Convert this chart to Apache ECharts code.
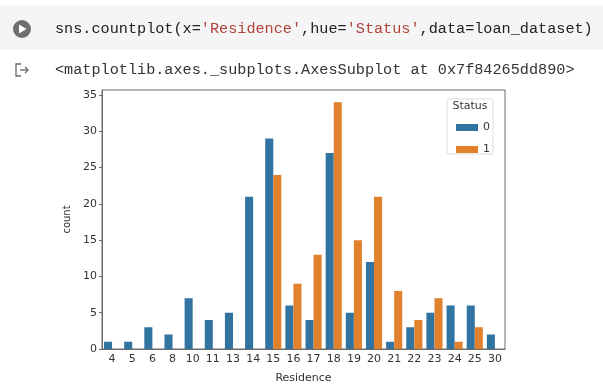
<!DOCTYPE html>
<html>
<head>
<meta charset="utf-8">
<script src="https://cdn.jsdelivr.net/npm/echarts@6/dist/echarts.min.js"></script>
<style>
  html, body { margin: 0; padding: 0; background: #fff; }
  #chart { width: 603px; height: 389px; }
</style>
</head>
<body>
<div id="chart"></div>
<script>
// countplot: Residence vs Status
const residence = ['4', '5', '6', '8', '10', '11', '13', '14', '15', '16', '17', '18', '19', '20', '21', '22', '23', '24', '25', '30']
const status0 = [1, 1, 3, 2, 7, 4, 5, 21, 29, 6, 4, 27, 5, 12, 1, 3, 5, 6, 6, 2]
const status1 = ['-', '-', '-', '-', '-', '-', '-', '-', 24, 9, 13, 34, 15, 21, 8, 4, 7, 1, 3, '-']
const yTicks = [0, 5, 10, 15, 20, 25, 30, 35]

const blue = '#3274a1'
const orange = '#e1812c'
const mono = '"Liberation Mono", "DejaVu Sans Mono", monospace'

const chart = echarts.init(document.getElementById('chart'))

chart.setOption({
  animation: false,
  backgroundColor: '#fff',
  color: [blue, orange],
  grid: {
    left: 102, right: 98, top: 90, bottom: 37,
    show: true, borderColor: '#6b6b6b', borderWidth: 1
  },
  legend: {
    orient: 'vertical',
    left: 451, top: 117,
    z: 10,
    itemWidth: 22, itemHeight: 7, itemGap: 11,
    icon: 'rect',
    textStyle: { color: '#333', fontSize: 11, fontFamily: 'DejaVu Sans' },
    data: ['0', '1']
  },
  xAxis: {
    type: 'category',
    data: residence,
    name: 'Residence',
    nameLocation: 'middle',
    nameGap: 24,
    nameTextStyle: { color: '#333', fontSize: 11, fontFamily: 'DejaVu Sans' },
    axisLine: { lineStyle: { color: '#6b6b6b' } },
    axisTick: { alignWithLabel: true, length: 3, lineStyle: { color: '#6b6b6b' } },
    axisLabel: { color: '#333', fontSize: 11, margin: 5, fontFamily: 'DejaVu Sans', interval: 0 }
  },
  yAxis: {
    type: 'value',
    min: 0, max: 35.7,
    name: 'count',
    nameLocation: 'middle',
    nameGap: 30,
    nameTextStyle: { color: '#333', fontSize: 10, fontFamily: 'DejaVu Sans' },
    axisLine: { show: true, lineStyle: { color: '#6b6b6b' } },
    axisTick: { show: true, length: 3, customValues: yTicks, lineStyle: { color: '#6b6b6b' } },
    axisLabel: { color: '#333', fontSize: 11, margin: 5, customValues: yTicks, fontFamily: 'DejaVu Sans' },
    splitLine: { show: false }
  },
  series: [
    { name: '0', type: 'bar', data: status0, barGap: '0%', barCategoryGap: '20%' },
    { name: '1', type: 'bar', data: status1, barGap: '0%', barCategoryGap: '20%' }
  ],
  graphic: [
    // notebook cell header
    { type: 'rect', shape: { x: 0, y: 5, width: 603, height: 45 }, style: { fill: '#f5f5f5' }, z: -1 },
    { type: 'circle', shape: { cx: 22, cy: 29, r: 9 }, style: { fill: '#6f6f6f' } },
    { type: 'polygon', shape: { points: [[19, 24.5], [19, 33.5], [26.5, 29]] }, style: { fill: '#fff' } },
    {
      type: 'text', left: 55, top: 21,
      style: {
        text: "{a|sns.countplot(x=}{s|'Residence'}{a|,hue=}{s|'Status'}{a|,data=loan_dataset)}",
        rich: {
          a: { fill: '#222', fontSize: 15.2, fontFamily: mono },
          s: { fill: '#b0443a', fontSize: 15.2, fontFamily: mono }
        }
      }
    },
    // output marker
    { type: 'polyline', shape: { points: [[21, 64], [16, 64], [16, 76], [21, 76]] }, style: { stroke: '#666', lineWidth: 1.3, fill: null } },
    { type: 'polyline', shape: { points: [[20, 70], [28, 70]] }, style: { stroke: '#666', lineWidth: 1.3 } },
    { type: 'polyline', shape: { points: [[25, 67], [28, 70], [25, 73]] }, style: { stroke: '#666', lineWidth: 1.3, fill: null } },
    {
      type: 'text', left: 55, top: 62,
      style: { text: '<matplotlib.axes._subplots.AxesSubplot at 0x7f84265dd890>', fill: '#333', fontSize: 15.2, fontFamily: mono }
    },
    // legend frame and title
    { type: 'rect', shape: { x: 447, y: 99, width: 46, height: 55, r: 2 }, style: { fill: 'rgba(255,255,255,0.8)', stroke: '#dddddd', lineWidth: 1 }, z: 5 },
    { type: 'text', x: 470, y: 101, style: { text: 'Status', fill: '#333', fontSize: 11, fontFamily: 'DejaVu Sans', align: 'center' }, z: 6 }
  ]
})
</script>
</body>
</html>
